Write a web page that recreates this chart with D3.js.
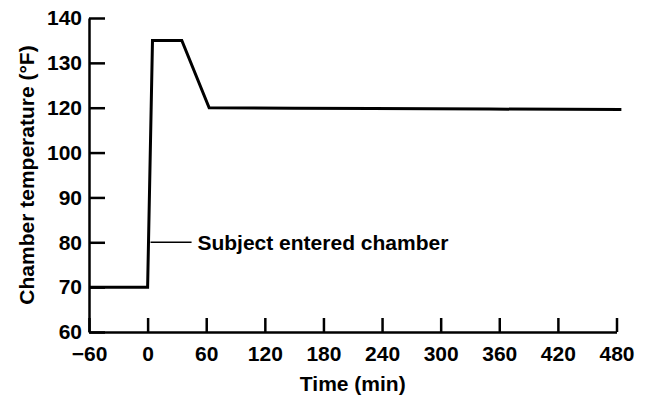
<!DOCTYPE html>
<html>
<head>
  <meta charset="UTF-8">
  <title>Chamber temperature</title>
  <script src="https://d3js.org/d3.v7.min.js"></script>
  <style>
    body { margin: 0; background: #fff; }
    svg { font-family: "Liberation Sans", Arial, sans-serif; font-weight: bold; }
    .axis path, .axis line { stroke: #000; stroke-width: 2.5px; }
    .axis text { font-size: 21px; fill: #000; }
    .axis-title { font-size: 21px; }
    .note { font-size: 21px; }
  </style>
</head>
<body>
  <svg width="647" height="401"></svg>

  <script>
    // time (min) and chamber temperature (°F)
    const times = [-60, 0, 5, 35, 63, 150, 230, 350, 485];
    const temps = [70, 70, 135, 135, 120, 119.8, 119.6, 119.4, 119.2];

    const xTicks = [-60, 0, 60, 120, 180, 240, 300, 360, 420, 480];
    // the printed axis has no 110 label, ticks are evenly spaced
    const yTicks = [60, 70, 80, 90, 100, 120, 130, 140];

    const noteTemp = 80;
    const noteText = "Subject entered chamber";

    const svg = d3.select("svg");
    const margin = { top: 18, right: 30.5, bottom: 69, left: 89 };
    const width = svg.attr("width") - margin.left - margin.right;
    const height = svg.attr("height") - margin.top - margin.bottom;

    const x = d3.scaleLinear()
      .domain([-60, 480])
      .range([0, width]);

    const y = d3.scaleLinear()
      .domain(yTicks)
      .range(yTicks.map((d, i) => height - i * height / (yTicks.length - 1)));

    const g = svg.append("g")
      .attr("transform", `translate(${margin.left},${margin.top})`);

    g.append("g")
      .attr("class", "x axis")
      .attr("transform", `translate(0,${height})`)
      .call(d3.axisBottom(x).tickValues(xTicks).tickSize(-14).tickSizeOuter(0).tickPadding(14))
      .call(a => a.selectAll("text").attr("dy", "0.71em"));

    g.append("g")
      .attr("class", "y axis")
      .call(d3.axisLeft(y).tickValues(yTicks).tickFormat(d3.format("d")).tickSize(-16).tickSizeOuter(0).tickPadding(7));

    g.selectAll(".axis .domain").attr("fill", "none");

    const line = d3.line()
      .x((d, i) => x(times[i]))
      .y(d => y(d));

    g.append("path")
      .datum(temps)
      .attr("fill", "none")
      .attr("stroke", "#000")
      .attr("stroke-width", 3)
      .attr("stroke-linejoin", "miter")
      .attr("d", line);

    // annotation
    g.append("line")
      .attr("x1", x(3))
      .attr("x2", x(45))
      .attr("y1", y(noteTemp))
      .attr("y2", y(noteTemp))
      .attr("stroke", "#000")
      .attr("stroke-width", 1.4);

    g.append("text")
      .attr("class", "note")
      .attr("x", x(51))
      .attr("y", y(noteTemp))
      .attr("dy", "0.35em")
      .text(noteText);

    svg.append("text")
      .attr("class", "axis-title")
      .attr("x", margin.left + width / 2)
      .attr("y", 391)
      .attr("text-anchor", "middle")
      .text("Time (min)");

    svg.append("text")
      .attr("class", "axis-title")
      .attr("transform", `translate(34,${margin.top + height / 2}) rotate(-90)`)
      .attr("text-anchor", "middle")
      .text("Chamber temperature (°F)");
  </script>
</body>
</html>
